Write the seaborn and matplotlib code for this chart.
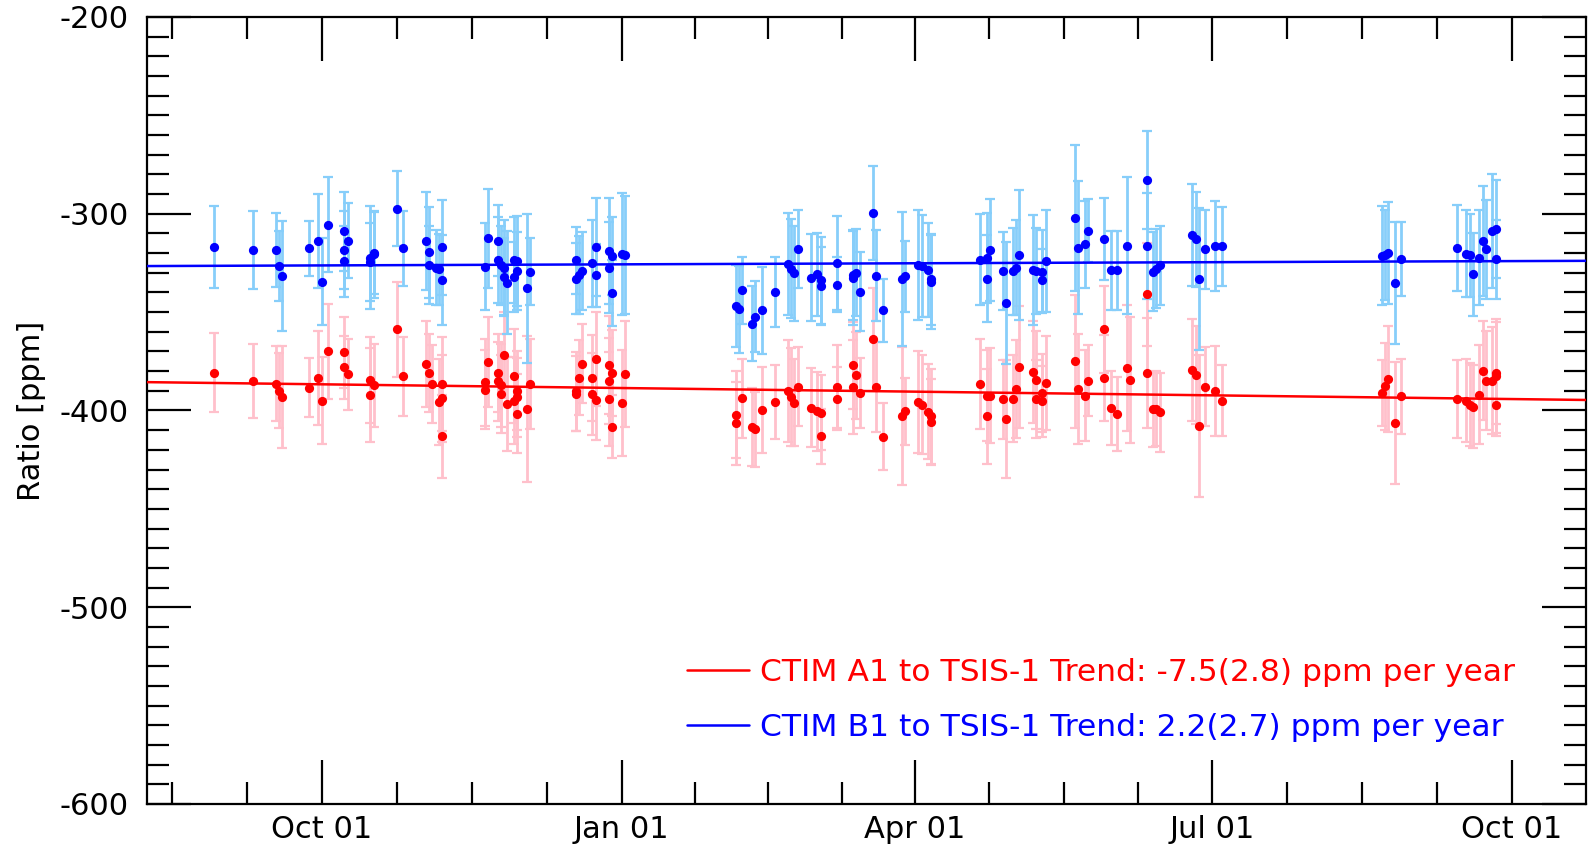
import numpy as np
import pandas as pd
import matplotlib
matplotlib.use("Agg")
import matplotlib.pyplot as plt
import matplotlib.dates as mdates
from matplotlib.ticker import MultipleLocator, FixedLocator
import seaborn as sns

# ---------------- data ----------------
blue_dates = [
    "2022-08-29", "2022-09-10", "2022-09-17", "2022-09-18", "2022-09-19", "2022-09-27", "2022-09-30",
    "2022-10-01", "2022-10-03", "2022-10-08", "2022-10-09", "2022-10-08", "2022-10-08", "2022-10-16",
    "2022-10-17", "2022-10-17", "2022-10-16", "2022-10-24", "2022-10-26", "2022-11-02", "2022-11-03",
    "2022-11-03", "2022-11-05", "2022-11-06", "2022-11-07", "2022-11-07", "2022-11-21", "2022-11-20",
    "2022-11-24", "2022-11-24", "2022-11-25", "2022-11-26", "2022-11-26", "2022-11-27", "2022-11-29",
    "2022-11-30", "2022-11-30", "2022-11-29", "2022-12-04", "2022-12-03", "2022-12-18", "2022-12-18",
    "2022-12-19", "2022-12-20", "2022-12-23", "2022-12-24", "2022-12-24", "2022-12-28", "2022-12-29",
    "2022-12-28", "2022-12-29", "2023-01-01", "2023-01-02", "2023-02-05", "2023-02-06", "2023-02-07",
    "2023-02-10", "2023-02-11", "2023-02-13", "2023-02-17", "2023-02-21", "2023-02-22", "2023-02-23",
    "2023-02-24", "2023-02-28", "2023-03-02", "2023-03-03", "2023-03-03", "2023-03-08", "2023-03-08",
    "2023-03-13", "2023-03-13", "2023-03-14", "2023-03-15", "2023-03-19", "2023-03-20", "2023-03-22",
    "2023-03-28", "2023-03-29", "2023-04-02", "2023-04-03", "2023-04-05", "2023-04-06", "2023-04-06",
    "2023-04-21", "2023-04-23", "2023-04-23", "2023-04-24", "2023-04-28", "2023-04-29", "2023-05-01",
    "2023-05-02", "2023-05-03", "2023-05-07", "2023-05-08", "2023-05-10", "2023-05-10", "2023-05-11",
    "2023-05-20", "2023-05-21", "2023-05-23", "2023-05-24", "2023-05-29", "2023-05-31", "2023-06-02",
    "2023-06-05", "2023-06-11", "2023-06-11", "2023-06-13", "2023-06-14", "2023-06-15", "2023-06-25",
    "2023-06-26", "2023-06-27", "2023-06-29", "2023-07-02", "2023-07-04", "2023-08-22", "2023-08-23",
    "2023-08-24", "2023-08-26", "2023-08-28", "2023-09-14", "2023-09-17", "2023-09-18", "2023-09-19",
    "2023-09-21", "2023-09-22", "2023-09-23", "2023-09-25", "2023-09-26", "2023-09-26",
]
blue_values = [
    -317.0, -318.4, -318.4, -326.6, -331.5, -317.6, -314.0,
    -334.5, -305.5, -309.0, -313.8, -318.4, -324.2, -322.3,
    -320.6, -319.9, -324.5, -297.4, -317.6, -313.8, -319.6,
    -326.1, -327.4, -328.3, -317.1, -333.7, -312.5, -326.9,
    -313.8, -323.5, -326.2, -327.4, -332.2, -335.0, -323.5,
    -324.0, -329.1, -332.2, -329.4, -337.9, -323.7, -333.0,
    -331.1, -329.1, -325.2, -331.3, -316.9, -318.9, -321.5,
    -327.4, -340.3, -320.6, -321.1, -346.9, -348.6, -338.8,
    -355.9, -352.4, -349.1, -339.8, -325.7, -327.9, -330.3,
    -317.9, -332.5, -330.8, -333.9, -336.7, -325.0, -336.2,
    -332.8, -331.1, -330.0, -339.6, -299.6, -331.5, -349.1,
    -333.0, -331.8, -326.1, -326.6, -328.6, -333.4, -334.7,
    -323.3, -333.0, -322.6, -318.4, -329.1, -345.4, -329.3,
    -327.4, -321.0, -328.4, -329.1, -329.4, -333.9, -324.2,
    -302.1, -317.2, -315.5, -308.7, -312.8, -328.8, -328.8,
    -316.2, -282.9, -316.4, -329.4, -327.9, -326.2, -310.9,
    -313.0, -333.2, -318.1, -316.4, -316.5, -321.3, -320.9,
    -319.9, -335.0, -323.0, -317.4, -320.3, -321.1, -330.8,
    -322.3, -313.7, -318.1, -308.6, -307.9, -323.2,
]
blue_errors = [
    21, 20, 19, 18, 28, 14, 24,
    22, 24, 20, 19, 20, 18, 26,
    22, 21, 20, 19, 19, 25, 23,
    20, 19, 18, 24, 23, 25, 22,
    18, 22, 20, 24, 20, 26, 22,
    23, 20, 18, 17, 38, 17, 18,
    20, 20, 22, 16, 25, 27, 20,
    23, 17, 31, 30, 21, 22, 17,
    19, 18, 22, 18, 26, 25, 24,
    20, 22, 21, 22, 20, 24, 14,
    24, 23, 22, 20, 24, 23, 16,
    34, 18, 28, 26, 24, 23, 24,
    23, 22, 23, 26, 20, 31, 22,
    24, 33, 28, 22, 21, 16, 26,
    37, 34, 22, 16, 21, 20, 20,
    35, 25, 27, 20, 20, 20, 26,
    24, 36, 20, 23, 20, 25, 23,
    26, 31, 19, 22, 22, 21, 21,
    24, 28, 25, 29, 25, 20,
]

red_dates = [
    "2022-08-29", "2022-09-10", "2022-09-17", "2022-09-18", "2022-09-19", "2022-09-27", "2022-09-30",
    "2022-10-01", "2022-10-03", "2022-10-08", "2022-10-08", "2022-10-09", "2022-10-16", "2022-10-17",
    "2022-10-16", "2022-10-24", "2022-10-26", "2022-11-02", "2022-11-03", "2022-11-04", "2022-11-07",
    "2022-11-07", "2022-11-06", "2022-11-07", "2022-11-21", "2022-11-20", "2022-11-20", "2022-11-26",
    "2022-11-24", "2022-11-24", "2022-11-25", "2022-11-25", "2022-11-27", "2022-11-29", "2022-11-30",
    "2022-11-30", "2022-11-29", "2022-11-30", "2022-12-04", "2022-12-03", "2022-12-20", "2022-12-19",
    "2022-12-18", "2022-12-18", "2022-12-24", "2022-12-23", "2022-12-23", "2022-12-24", "2022-12-28",
    "2022-12-29", "2022-12-28", "2022-12-28", "2022-12-29", "2023-01-02", "2023-01-01", "2023-02-07",
    "2023-02-05", "2023-02-05", "2023-02-10", "2023-02-11", "2023-02-13", "2023-02-17", "2023-02-21",
    "2023-02-22", "2023-02-23", "2023-02-24", "2023-02-28", "2023-03-02", "2023-03-03", "2023-03-03",
    "2023-03-08", "2023-03-08", "2023-03-13", "2023-03-13", "2023-03-14", "2023-03-15", "2023-03-19",
    "2023-03-20", "2023-03-22", "2023-03-28", "2023-03-29", "2023-04-02", "2023-04-03", "2023-04-05",
    "2023-04-06", "2023-04-06", "2023-04-21", "2023-04-23", "2023-04-23", "2023-04-24", "2023-04-28",
    "2023-04-29", "2023-05-01", "2023-05-02", "2023-05-03", "2023-05-07", "2023-05-08", "2023-05-08",
    "2023-05-10", "2023-05-10", "2023-05-11", "2023-05-20", "2023-05-21", "2023-05-23", "2023-05-24",
    "2023-05-29", "2023-05-29", "2023-05-31", "2023-06-02", "2023-06-05", "2023-06-06", "2023-06-11",
    "2023-06-11", "2023-06-13", "2023-06-14", "2023-06-15", "2023-06-25", "2023-06-26", "2023-06-27",
    "2023-06-29", "2023-07-02", "2023-07-04", "2023-08-22", "2023-08-23", "2023-08-24", "2023-08-26",
    "2023-08-28", "2023-09-14", "2023-09-17", "2023-09-18", "2023-09-19", "2023-09-21", "2023-09-22",
    "2023-09-23", "2023-09-25", "2023-09-26", "2023-09-26", "2023-09-26",
]
red_values = [
    -380.7, -385.0, -386.3, -389.9, -393.3, -388.4, -383.6,
    -395.0, -370.0, -370.5, -378.0, -381.6, -384.6, -387.2,
    -392.0, -358.8, -382.6, -376.3, -380.9, -386.5, -386.5,
    -393.8, -395.7, -413.2, -375.3, -385.7, -389.4, -371.9,
    -380.9, -385.1, -387.2, -391.6, -396.7, -382.6, -389.9,
    -393.3, -395.0, -401.6, -386.5, -399.1, -376.3, -383.4,
    -390.2, -391.4, -373.8, -383.4, -391.6, -394.8, -377.0,
    -380.9, -385.1, -394.1, -408.2, -381.6, -396.2, -393.8,
    -402.1, -406.5, -408.4, -409.6, -399.7, -395.7, -390.2,
    -393.1, -396.0, -387.9, -398.6, -400.4, -401.1, -413.2,
    -387.9, -394.0, -388.2, -377.0, -382.1, -391.1, -363.9,
    -388.0, -413.3, -402.8, -400.3, -395.7, -397.0, -400.6,
    -403.0, -405.9, -386.5, -403.0, -392.4, -392.4, -394.3,
    -404.5, -394.0, -389.2, -377.8, -380.4, -384.5, -394.1,
    -391.1, -395.3, -386.0, -375.1, -389.0, -392.4, -384.8,
    -358.8, -383.4, -398.7, -401.8, -378.4, -384.3, -341.0,
    -381.1, -399.4, -399.0, -400.9, -379.5, -382.1, -407.9,
    -387.9, -390.2, -395.0, -391.1, -387.7, -384.0, -406.2,
    -392.8, -394.1, -395.0, -397.0, -398.0, -391.9, -379.7,
    -384.8, -384.8, -382.3, -381.1, -397.0,
]
red_errors = [
    20, 19, 19, 19, 26, 15, 24,
    22, 24, 18, 16, 18, 22, 21,
    24, 24, 20, 22, 20, 20, 24,
    22, 22, 21, 23, 22, 20, 22,
    20, 20, 21, 20, 24, 24, 20,
    20, 22, 20, 23, 37, 20, 19,
    20, 19, 24, 22, 21, 20, 25,
    22, 22, 24, 16, 27, 27, 20,
    22, 21, 20, 19, 22, 19, 26,
    25, 22, 20, 20, 20, 19, 14,
    21, 16, 24, 22, 22, 18, 26,
    23, 17, 35, 17, 26, 25, 24,
    24, 22, 23, 24, 23, 24, 20,
    30, 22, 25, 31, 26, 25, 20,
    20, 18, 24, 34, 28, 23, 18,
    22, 22, 19, 19, 32, 32, 26,
    28, 19, 19, 20, 26, 25, 36,
    20, 23, 18, 17, 22, 27, 31,
    19, 20, 21, 21, 21, 25, 25,
    25, 27, 29, 26, 16,
]

trend_labels = ["CTIM A1 to TSIS-1 Trend: -7.5(2.8) ppm per year",
                "CTIM B1 to TSIS-1 Trend: 2.2(2.7) ppm per year"]
trend_slopes = [-7.5, 2.2]            # ppm per year
trend_start_values = [-385.6, -326.6]  # value at left edge of the axis
x_range = ["2022-08-08 12:00", "2023-10-23 17:00"]
major_tick_dates = ["2022-10-01", "2023-01-01", "2023-04-01", "2023-07-01", "2023-10-01"]
quarter_bounds = ["2022-07-01", "2022-10-01", "2023-01-01", "2023-04-01",
                  "2023-07-01", "2023-10-01", "2024-01-01"]

# ---------------- style ----------------
sns.set_style("ticks")
plt.rcParams["font.family"] = ["DejaVu Sans"]
plt.rcParams["axes.unicode_minus"] = False
for key in ["text.color", "axes.labelcolor", "xtick.color", "ytick.color", "axes.edgecolor"]:
    plt.rcParams[key] = "black"
FS = 22

fig = plt.figure(figsize=(15.9, 8.44), dpi=100)
ax = fig.add_axes([0.0925, 0.0474, 0.9050, 0.9325])

blue_df = pd.DataFrame({"date": pd.to_datetime(blue_dates), "value": blue_values, "err": blue_errors})
red_df = pd.DataFrame({"date": pd.to_datetime(red_dates), "value": red_values, "err": red_errors})

# error bars
ax.errorbar(red_df["date"], red_df["value"], yerr=red_df["err"], fmt="none",
            ecolor="#FFC0CB", elinewidth=2, capsize=3.9, capthick=1.6, zorder=1)
ax.errorbar(blue_df["date"], blue_df["value"], yerr=blue_df["err"], fmt="none",
            ecolor="#87CEFA", elinewidth=2, capsize=3.9, capthick=1.6, zorder=2)

# trend lines
x0, x1 = pd.to_datetime(x_range)
span_years = (x1 - x0) / pd.Timedelta(days=365.25)
colors = ["#FF0000", "#0000FF"]
for lab, slope, v0, col in zip(trend_labels, trend_slopes, trend_start_values, colors):
    tdf = pd.DataFrame({"date": [x0, x1], "value": [v0, v0 + slope * span_years]})
    sns.lineplot(data=tdf, x="date", y="value", color=col, linewidth=1.8, ax=ax,
                 label=lab, zorder=3)

# points
sns.scatterplot(data=red_df, x="date", y="value", color="#FF0000", s=44,
                linewidth=0, ax=ax, zorder=4, legend=False)
sns.scatterplot(data=blue_df, x="date", y="value", color="#0000FF", s=44,
                linewidth=0, ax=ax, zorder=5, legend=False)

# axes
ax.set_xlim(x0, x1)
ax.set_ylim(-600, -200)
ax.yaxis.set_major_locator(MultipleLocator(100))
ax.yaxis.set_minor_locator(MultipleLocator(10))

majors = pd.to_datetime(major_tick_dates)
ax.xaxis.set_major_locator(FixedLocator(mdates.date2num(majors)))
ax.xaxis.set_major_formatter(mdates.DateFormatter("%b %d"))
qb = mdates.date2num(pd.to_datetime(quarter_bounds))
minor_pos = []
for a, b in zip(qb[:-1], qb[1:]):
    for k in (1, 2, 3):
        minor_pos.append(a + k * (b - a) / 4)
ax.xaxis.set_minor_locator(FixedLocator(minor_pos))

ax.tick_params(which="both", direction="in", top=True, right=True,
               width=1.6, color="black", labelcolor="black", labelsize=FS)
ax.tick_params(which="major", length=32)
ax.tick_params(which="minor", length=16)
ax.tick_params(axis="y", which="major", pad=13)
ax.tick_params(axis="x", which="major", pad=8)
for sp in ax.spines.values():
    sp.set_linewidth(1.6)
    sp.set_color("black")

ax.set_xlabel("")
ax.set_ylabel("Ratio [ppm]", fontsize=FS, labelpad=10, color="black")

leg = ax.legend(loc="center left", bbox_to_anchor=(0.375, 0.132), frameon=False,
                fontsize=22.6, handlelength=2.0, handletextpad=0.35, labelspacing=0.85,
                borderaxespad=0, borderpad=0, labelcolor="linecolor")

fig.savefig("out.png", dpi=100)
